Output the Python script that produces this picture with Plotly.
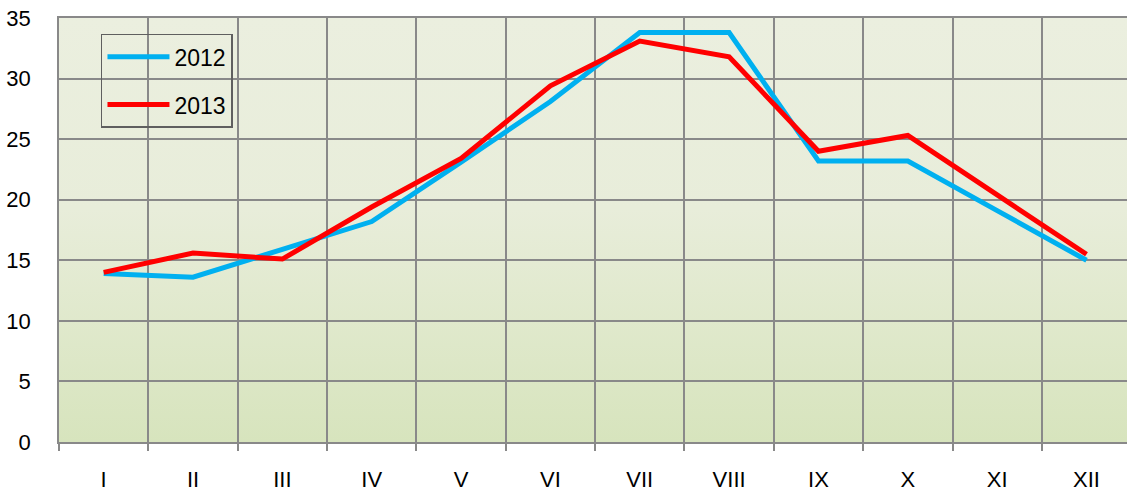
import base64
import plotly.graph_objects as go

months = ["I", "II", "III", "IV", "V", "VI", "VII", "VIII", "IX", "X", "XI", "XII"]
series_2012 = [13.9, 13.6, 15.9, 18.2, 23.1, 28.1, 33.8, 33.8, 23.2, 23.2, 19.1, 15.0]
series_2013 = [14.0, 15.6, 15.1, 19.4, 23.4, 29.4, 33.1, 31.8, 24.0, 25.3, 20.4, 15.5]
y_ticks = [0, 5, 10, 15, 20, 25, 30, 35]

FONT = "Liberation Sans, Arial, sans-serif"
GRID = "#898989"

svg = (
    '<svg xmlns="http://www.w3.org/2000/svg" width="100" height="100" preserveAspectRatio="none">'
    '<defs><linearGradient id="g" x1="0" y1="0" x2="0" y2="1">'
    '<stop offset="0" stop-color="#EBEFDF"/>'
    '<stop offset="0.45" stop-color="#E8EDDA"/>'
    '<stop offset="1" stop-color="#D7E4BD"/>'
    '</linearGradient></defs>'
    '<rect width="100" height="100" fill="url(#g)"/></svg>'
)
bg_uri = "data:image/svg+xml;base64," + base64.b64encode(svg.encode()).decode()

fig = go.Figure()
fig.add_trace(go.Scatter(x=months, y=series_2012, mode="lines", name="2012",
                         line=dict(color="#00B0F0", width=5), legendgroup="a"))
fig.add_trace(go.Scatter(x=months, y=series_2013, mode="lines", name="2013",
                         line=dict(color="#FF0000", width=5), legendgroup="b"))

fig.update_layout(
    width=1127, height=493,
    margin=dict(l=59, r=0, t=18, b=51, autoexpand=False),
    paper_bgcolor="white",
    plot_bgcolor="rgba(0,0,0,0)",
    font=dict(family=FONT, size=22, color="black"),
    showlegend=True,
    legend=dict(
        x=0.0393, y=0.963, xanchor="left", yanchor="top",
        bgcolor="rgba(0,0,0,0)", bordercolor="#5f5f5f", borderwidth=1.5,
        font=dict(family=FONT, size=23, color="black"),
        traceorder="grouped", tracegroupgap=15, itemwidth=62,
    ),
    images=[dict(source=bg_uri, xref="paper", yref="paper", x=0, y=1,
                 sizex=1, sizey=1, xanchor="left", yanchor="top",
                 sizing="stretch", layer="below")],
    xaxis=dict(
        type="category", range=[-0.5, 11.453], tickson="boundaries",
        automargin=False,
        showgrid=True, gridcolor=GRID, gridwidth=1.5,
        showline=True, linecolor=GRID, linewidth=1.5, mirror=True,
        ticks="outside", ticklen=7, tickcolor=GRID, tickwidth=1.5,
        ticklabelstandoff=17, zeroline=False,
    ),
    yaxis=dict(
        range=[0, 35], tickvals=y_ticks, automargin=False,
        showgrid=True, gridcolor=GRID, gridwidth=1.5,
        showline=True, linecolor=GRID, linewidth=1.5,
        ticks="", ticklabelstandoff=22, zeroline=False,
    ),
)

fig.write_html("out.html", config={"displayModeBar": False},
               post_script="document.body.style.margin='0';document.body.style.padding='0';")
